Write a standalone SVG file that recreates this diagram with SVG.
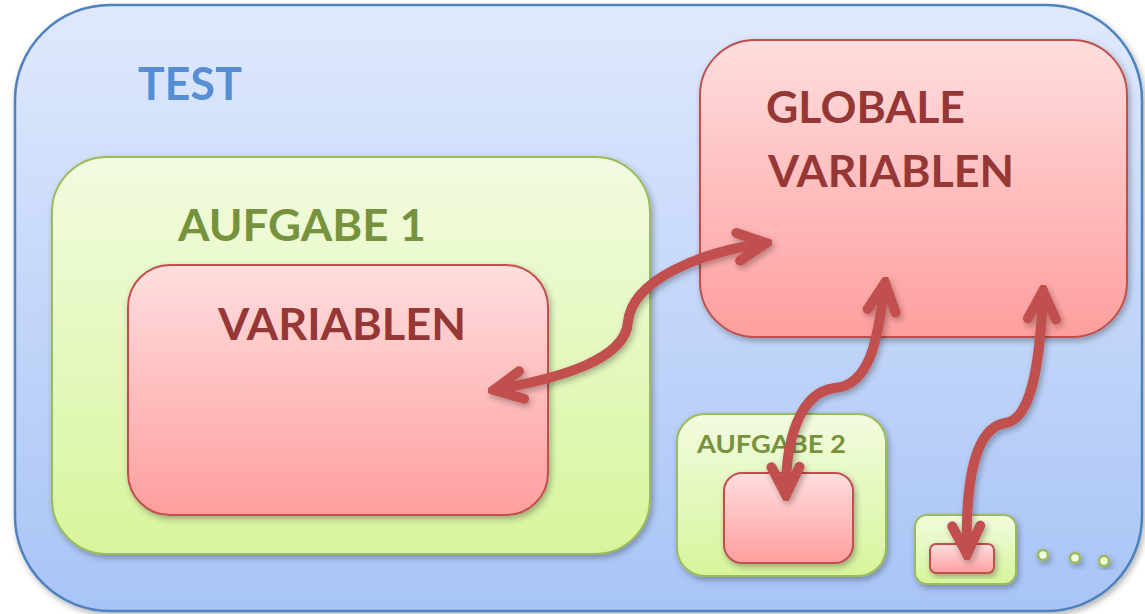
<svg xmlns="http://www.w3.org/2000/svg" width="1145" height="614" viewBox="0 0 1145 614">
<defs>
<linearGradient id="gBlue" x1="0" y1="0" x2="0" y2="1"><stop offset="0" stop-color="#dfe9fd"/><stop offset="1" stop-color="#a8c4f6"/></linearGradient>
<linearGradient id="gGreen" x1="0" y1="0" x2="0" y2="1"><stop offset="0" stop-color="#f2fbe0"/><stop offset="1" stop-color="#d7f59c"/></linearGradient>
<linearGradient id="gRed" x1="0" y1="0" x2="0" y2="1"><stop offset="0" stop-color="#ffdede"/><stop offset="1" stop-color="#ff9e9e"/></linearGradient>
<filter id="sh" x="-10%" y="-10%" width="130%" height="130%"><feDropShadow dx="2" dy="3" stdDeviation="3" flood-color="#000" flood-opacity="0.3"/></filter>
<marker id="head" viewBox="-36 -22 42 44" markerWidth="42" markerHeight="44" refX="0" refY="0" orient="auto-start-reverse" markerUnits="userSpaceOnUse">
<path d="M -28 -14 L 0 0 L -28 14" fill="none" stroke="#c0504d" stroke-width="10" stroke-linecap="round" stroke-linejoin="miter"/>
</marker>
</defs>
<style>
.blue{fill:url(#gBlue);stroke:#4f81bd;stroke-width:2.5}
.green{fill:url(#gGreen);stroke:#9bbb59;stroke-width:2}
.red{fill:url(#gRed);stroke:#c0504d;stroke-width:2}
.t{font-family:Lato,"Open Sans",sans-serif;font-weight:bold}
.conn{fill:none;stroke:#c0504d;stroke-width:10;stroke-linecap:round}
</style>
<g id="test" filter="url(#sh)">
<rect class="blue" x="15" y="5" width="1127" height="606" rx="95"/>
<text class="t" x="138" y="100" font-size="46" fill="#558ed5" textLength="104" lengthAdjust="spacingAndGlyphs">TEST</text>
</g>
<g id="aufgabe1">
<rect class="green" x="52" y="157" width="598" height="397" rx="55" filter="url(#sh)"/>
<text class="t" x="178" y="241" font-size="44" fill="#76923c" textLength="248" lengthAdjust="spacingAndGlyphs">AUFGABE 1</text>
</g>
<g id="variablen">
<rect class="red" x="128" y="265" width="420" height="250" rx="42" filter="url(#sh)"/>
<text class="t" x="218" y="340" font-size="44" fill="#953735" textLength="248" lengthAdjust="spacingAndGlyphs">VARIABLEN</text>
</g>
<g id="globale">
<rect class="red" x="700" y="40" width="427" height="297" rx="55" filter="url(#sh)"/>
<text class="t" x="766" y="123" font-size="44" fill="#953735" textLength="199" lengthAdjust="spacingAndGlyphs">GLOBALE</text>
<text class="t" x="768" y="187" font-size="44" fill="#953735" textLength="246" lengthAdjust="spacingAndGlyphs">VARIABLEN</text>
</g>
<g id="aufgabe2">
<rect class="green" x="677" y="414" width="209" height="162" rx="28" filter="url(#sh)"/>
<text class="t" x="697" y="453" font-size="25" fill="#76923c" textLength="149" lengthAdjust="spacingAndGlyphs">AUFGABE 2</text>
<rect class="red" x="724" y="473" width="129" height="90" rx="18" filter="url(#sh)"/>
</g>
<g id="aufgabe3">
<rect class="green" x="915" y="515" width="101" height="69" rx="12" filter="url(#sh)"/>
<rect class="red" x="930" y="544" width="64" height="29" rx="6" filter="url(#sh)"/>
</g>
<g id="dots" filter="url(#sh)">
<circle cx="1043" cy="555" r="5" fill="#eefad8" stroke="#9bbb59" stroke-width="2.5"/>
<circle cx="1075" cy="558" r="5" fill="#eefad8" stroke="#9bbb59" stroke-width="2.5"/>
<circle cx="1104" cy="561" r="5" fill="#eefad8" stroke="#9bbb59" stroke-width="2.5"/>
</g>
<g id="connectors" filter="url(#sh)">
<path class="conn" d="M 494 390 C 560 378, 625 360, 628 322 C 632 280, 700 252, 766 243" marker-start="url(#head)" marker-end="url(#head)"/>
<path class="conn" d="M 885 283 C 878 340, 870 385, 835 388 C 800 392, 785 440, 786 495" marker-start="url(#head)" marker-end="url(#head)"/>
<path class="conn" d="M 1043 291 C 1040 370, 1030 420, 1005 423 C 975 428, 965 480, 967 554" marker-start="url(#head)" marker-end="url(#head)"/>
</g>
</svg>
